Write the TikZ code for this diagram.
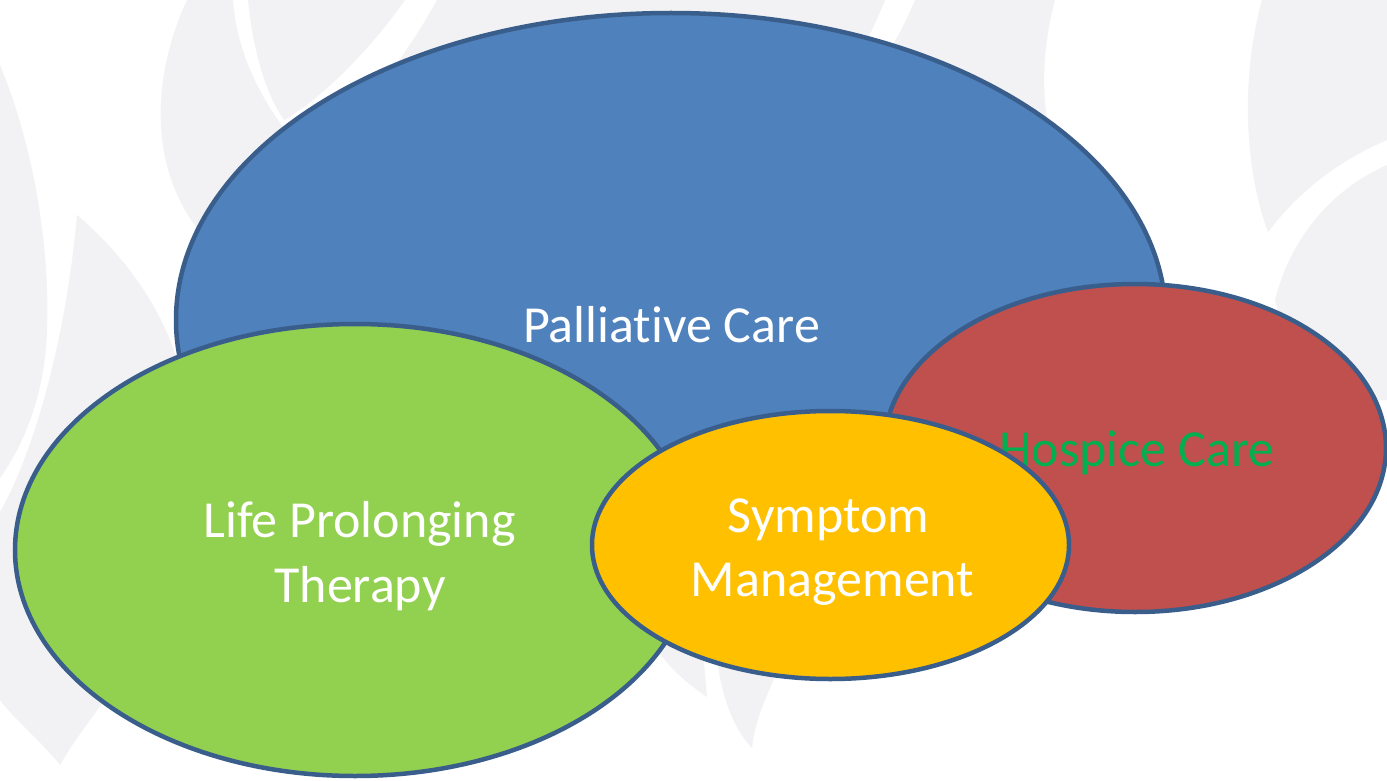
\documentclass[tikz,border=0pt]{standalone}
\usepackage{fontspec}
\setmainfont{Carlito}[Ligatures=NoCommon]
\usetikzlibrary{shapes.geometric}

\definecolor{edgeblue}{HTML}{3A5E8C}
\definecolor{pcblue}{HTML}{4F81BD}
\definecolor{hcred}{HTML}{C0504D}
\definecolor{hcgreen}{HTML}{00B050}
\definecolor{lpgreen}{HTML}{92D050}
\definecolor{smyellow}{HTML}{FFC000}
\definecolor{leafgray}{HTML}{F2F2F4}

\begin{document}
\begin{tikzpicture}[x=1pt, y=-1pt,
  bubble/.style={ellipse, draw=edgeblue, line width=4.5pt, inner sep=0pt},
  caption/.style={anchor=base, inner sep=0pt, text=white,
                  font=\fontsize{52}{63}\selectfont},
  leaf/.style={fill=leafgray}]

\useasboundingbox (0,0) rectangle (1387,781);
\fill[white] (0,0) rectangle (1387,781);

% faint leaf pattern in the background
\fill[leaf] (0,65) .. controls (35,150) and (50,250) .. (47,330)
  .. controls (45,400) and (20,450) .. (0,478) -- cycle;
\fill[leaf] (77,215) .. controls (130,260) and (170,320) .. (182,380)
  -- (182,600) .. controls (120,680) and (80,730) .. (60,765)
  .. controls (40,740) and (15,720) .. (0,700) -- (0,512)
  .. controls (30,460) and (65,350) .. (77,215) -- cycle;
\fill[leaf] (187,0) .. controls (150,80) and (150,170) .. (200,232)
  -- (300,160) -- (280,123) .. controls (250,80) and (236,40) .. (233,0) -- cycle;
\fill[leaf] (248,0) -- (405,0) .. controls (370,50) and (320,100) .. (284,120)
  .. controls (262,88) and (252,40) .. (248,0) -- cycle;
\fill[leaf] (437,0) -- (885,0) .. controls (865,50) and (840,90) .. (810,130)
  -- (330,160) .. controls (370,100) and (410,50) .. (437,0) -- cycle;
\fill[leaf] (915,0) -- (1055,0) .. controls (1042,50) and (1042,90) .. (1048,125)
  -- (900,200) -- (875,75) .. controls (893,45) and (905,25) .. (915,0) -- cycle;
\fill[leaf] (1262,0) .. controls (1240,80) and (1245,170) .. (1268,232)
  .. controls (1300,190) and (1340,160) .. (1387,140) -- (1387,0) -- cycle;
\fill[leaf] (1387,165) .. controls (1330,190) and (1290,240) .. (1275,300)
  -- (1300,400) -- (1387,400) -- cycle;
\fill[leaf] (650,640) -- (702,640) -- (707,697)
  .. controls (688,684) and (668,668) .. (650,640) -- cycle;
\fill[leaf] (715,640) .. controls (720,700) and (735,730) .. (752,748)
  .. controls (755,720) and (765,700) .. (782,660) -- cycle;

% overlapping care areas
\node[bubble, fill=pcblue, minimum width=990pt, minimum height=614pt]
  (palliative) at (671,320) {};
\node[caption] (palliativetext) at (671.5,342) {Palliative Care};

\node[bubble, fill=hcred, minimum width=502pt, minimum height=328pt]
  (hospice) at (1135,448) {};
\node[caption, text=hcgreen] (hospicetext) at (1137,466) {Hospice Care};

\node[bubble, fill=lpgreen, minimum width=680pt, minimum height=452pt]
  (prolong) at (355,550) {};
\node[caption] (prolongtop) at (359.5,537) {Life Prolonging};
\node[caption] (prolongbottom) at (360,602) {Therapy};

\node[bubble, fill=smyellow, minimum width=477pt, minimum height=268pt]
  (symptom) at (830.5,545) {};
\node[caption] (symptomtop) at (828.5,532) {Symptom};
\node[caption] (symptombottom) at (832.5,596) {Management};

\end{tikzpicture}
\end{document}
